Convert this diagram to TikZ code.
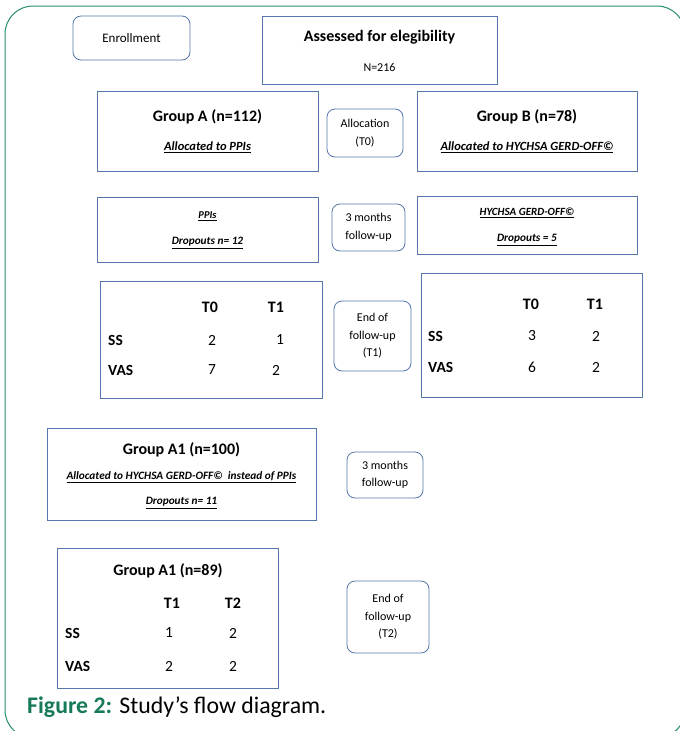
\documentclass[tikz,border=0pt]{standalone}
\usepackage{fontspec}
\setmainfont{Carlito}
\definecolor{boxblue}{RGB}{84,118,170}
\definecolor{framegreen}{RGB}{40,140,110}
\definecolor{capgreen}{RGB}{22,122,90}
\tikzset{
plainbox/.style={draw=boxblue, line width=0.8pt, inner sep=0pt},
stagebox/.style={draw=boxblue, line width=0.8pt, rounded corners=8pt, align=center,
  inner sep=0pt, font=\fontsize{12}{17.5}\selectfont},
head/.style={inner sep=0pt, font=\fontsize{16}{18}\selectfont\bfseries},
note/.style={inner sep=0pt, font=\fontsize{11.3}{12}\selectfont\bfseries\itshape},
bignote/.style={inner sep=0pt, font=\fontsize{12.5}{14}\selectfont\bfseries\itshape},
cell/.style={inner sep=0pt, font=\fontsize{15.5}{18}\selectfont},
rowlab/.style={inner sep=0pt, anchor=west, font=\fontsize{15.5}{18}\selectfont\bfseries}
}
\begin{document}
\begin{tikzpicture}[x=1pt,y=-1pt]
\useasboundingbox (0,0) rectangle (680,731);
\begin{scope}
  \clip (0,0) rectangle (680,731);
  \draw[framegreen, line width=1pt, rounded corners=28pt] (5,6) rectangle (685,738);
\end{scope}

\node[stagebox, minimum width=117, minimum height=44, font=\fontsize{13}{16}\selectfont] (enrol) at (131.5,38) {Enrollment};
\node[plainbox, minimum width=235, minimum height=68] (assess) at (379.5,50) {};
\node[head] (assesst) at (379.5,37) {Assessed for elegibility};
\node[inner sep=0pt, font=\fontsize{12}{14}\selectfont] (assessn) at (379.5,67) {N=216};

\node[plainbox, minimum width=221, minimum height=80] (grpa) at (207.5,131) {};
\node[head] (grpat) at (207.5,117) {Group A (n=112)};
\node[bignote] (grpas) at (207.5,147) {\underline{Allocated to PPIs}};
\node[stagebox, minimum width=76, minimum height=48] (alloc) at (365,133) {Allocation\\(T0)};
\node[plainbox, minimum width=220, minimum height=80] (grpb) at (527,131) {};
\node[head] (grpbt) at (527,117) {Group B (n=78)};
\node[bignote] (grpbs) at (527,147) {\underline{Allocated to HYCHSA GERD-OFF©}};

\node[plainbox, minimum width=221, minimum height=65] (ppis) at (207.5,229.5) {};
\node[note, font=\fontsize{10.5}{12}\selectfont\bfseries\itshape] (ppist) at (207.5,216) {\underline{PPIs}};
\node[note] (ppisd) at (207.5,243) {\underline{Dropouts n= 12}};
\node[stagebox, minimum width=73, minimum height=47] (follow1) at (368.5,227.5) {3 months\\follow-up};
\node[plainbox, minimum width=220, minimum height=58] (hych) at (527,225) {};
\node[note, font=\fontsize{11}{12}\selectfont\bfseries\itshape] (hycht) at (527,213) {\underline{HYCHSA\ GERD-OFF©}};
\node[note] (hychd) at (527,240) {\underline{Dropouts = 5}};

\node[plainbox, minimum width=222, minimum height=117] (taba) at (211,339.5) {};
\node[head] (tabat0) at (210,307) {T0};
\node[head] (tabat1) at (276,307) {T1};
\node[rowlab] (tabass) at (108,340) {SS};
\node[cell] (tabass0) at (212,340) {2};
\node[cell] (tabass1) at (280,340) {1};
\node[rowlab] (tabavas) at (108,370) {VAS};
\node[cell] (tabavas0) at (212,370) {7};
\node[cell] (tabavas1) at (276,370) {2};
\node[stagebox, minimum width=77, minimum height=70] (end1) at (372.5,336) {End of\\follow-up\\(T1)};
\node[plainbox, minimum width=221, minimum height=124] (tabb) at (531.5,335) {};
\node[head] (tabbt0) at (531,304) {T0};
\node[head] (tabbt1) at (595,304) {T1};
\node[rowlab] (tabbss) at (428,336) {SS};
\node[cell] (tabbss0) at (532,336) {3};
\node[cell] (tabbss1) at (596,336) {2};
\node[rowlab] (tabbvas) at (428,367) {VAS};
\node[cell] (tabbvas0) at (532,367) {6};
\node[cell] (tabbvas1) at (596,367) {2};

\node[plainbox, minimum width=269, minimum height=92] (grpa1) at (181.5,474) {};
\node[head] (grpa1t) at (181.5,450) {Group A1 (n=100)};
\node[note] (grpa1s) at (181.5,477) {\underline{Allocated to HYCHSA GERD-OFF©\ \ instead of PPIs}};
\node[note] (grpa1d) at (181.5,503) {\underline{Dropouts n= 11}};
\node[stagebox, minimum width=76, minimum height=46] (follow2) at (385,475) {3 months\\follow-up};

\node[plainbox, minimum width=221, minimum height=140] (taba1) at (167.5,618) {};
\node[head] (taba1t) at (168,571) {Group A1 (n=89)};
\node[head] (taba1t1) at (172,603) {T1};
\node[head] (taba1t2) at (233,603) {T2};
\node[rowlab] (taba1ss) at (65,633) {SS};
\node[cell] (taba1ss1) at (169,633) {1};
\node[cell] (taba1ss2) at (233,633) {2};
\node[rowlab] (taba1vas) at (65,666) {VAS};
\node[cell] (taba1vas1) at (169,666) {2};
\node[cell] (taba1vas2) at (233,666) {2};
\node[stagebox, minimum width=82, minimum height=72] (end2) at (388,617) {End of\\follow-up\\(T2)};

\node[inner sep=0pt, anchor=base west, font=\fontsize{23.8}{26}\selectfont] (caption) at (27,713)
  {{\color{capgreen}\bfseries Figure 2:} Study’s flow diagram.};
\end{tikzpicture}
\end{document}
